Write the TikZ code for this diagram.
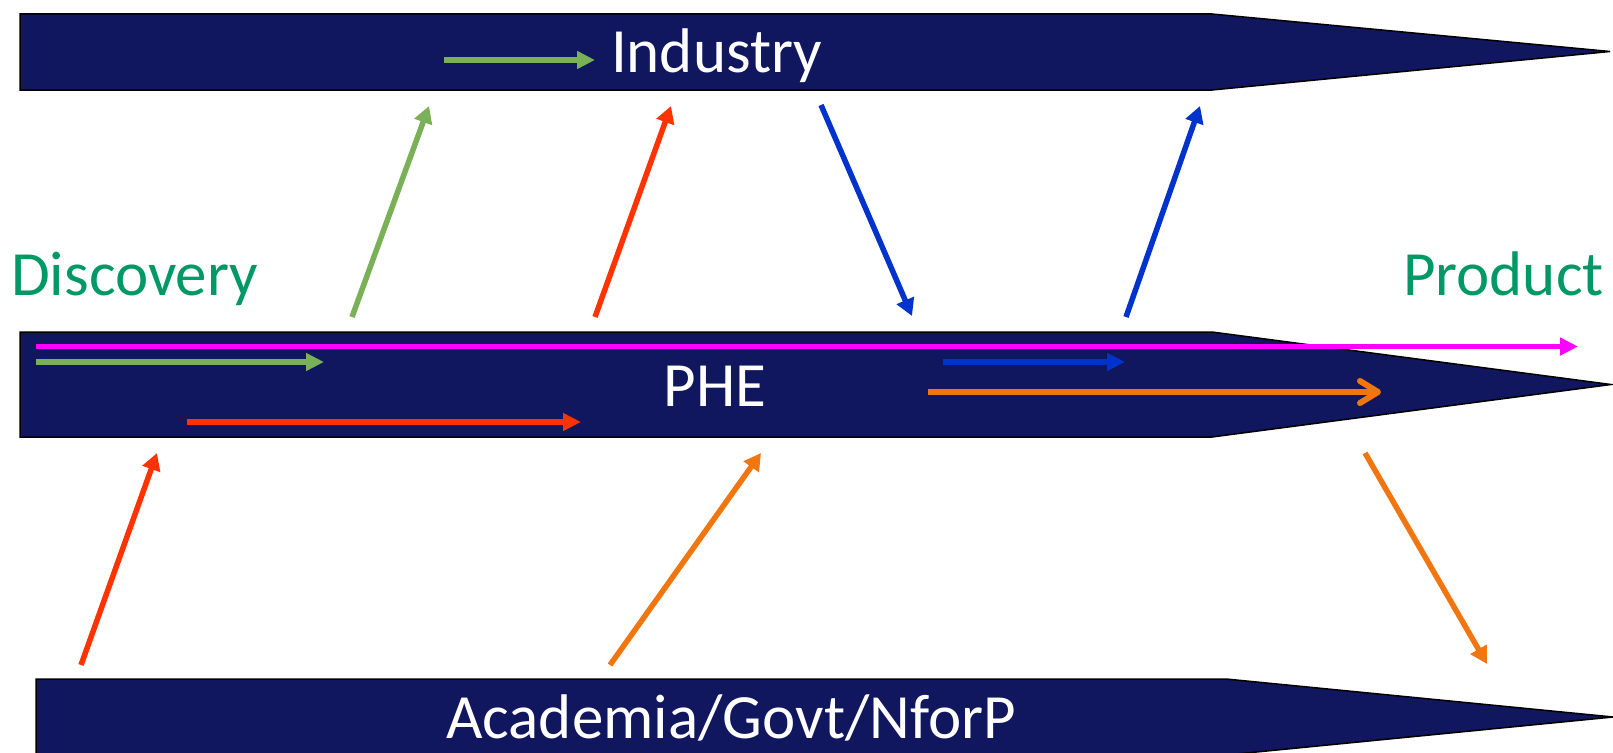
\documentclass[tikz,border=0pt]{standalone}
\usepackage{fontspec}
\setmainfont{Carlito}
\usetikzlibrary{arrows.meta}
\definecolor{bandblue}{RGB}{17,23,94}
\definecolor{arrgreen}{RGB}{122,176,88}
\definecolor{arrred}{RGB}{255,51,0}
\definecolor{arrblue}{RGB}{0,51,204}
\definecolor{arrorange}{RGB}{242,118,16}
\definecolor{arrmagenta}{RGB}{255,0,255}
\definecolor{txtgreen}{RGB}{0,153,102}
\tikzset{
  band/.style={fill=bandblue, draw=black, line width=1.5pt, line join=miter},
  bandtext/.style={text=white, font=\fontsize{63}{70}\selectfont, inner sep=0pt},
  stagetext/.style={text=txtgreen, font=\fontsize{63}{70}\selectfont, inner sep=0pt},
  flat/.style={line width=6pt, -{Triangle[length=18pt,width=17pt]}},
  slant/.style={line width=5.5pt, -{Triangle[length=17pt,width=18pt]}},
  barb/.style={line width=6pt, -{Straight Barb[length=18pt,width=22pt,round]}},
}
\begin{document}
\begin{tikzpicture}[x=1pt,y=-1pt]
\useasboundingbox (0,0) rectangle (1613,752);
\clip (0,0) rectangle (1613,752);
\fill[white] (0,0) rectangle (1613,752);

% bands
\draw[band] (20,14) -- (1212,14) -- (1610,51.5) -- (1212,90) -- (20,90) -- cycle;
\draw[band] (20,332) -- (1212,332) -- (1611,384.5) -- (1212,437) -- (20,437) -- cycle;
\draw[band] (36,679) -- (1226,679) -- (1613,717) -- (1226,755) -- (36,755) -- cycle;

% texts
\node[bandtext, anchor=base] (industry) at (716.5,73) {Industry};
\node[bandtext, anchor=base] (phe) at (715,406) {PHE};
\node[bandtext, anchor=base] (academia) at (731,738) {Academia/Govt/NforP};
\node[stagetext, anchor=base west] (discovery) at (11,295) {Discovery};
\node[stagetext, anchor=base east] (product) at (1604,295) {Product};

% arrow end points
\coordinate (ig1) at (444,60);   \coordinate (ig2) at (595,60);
\coordinate (gd1) at (352,317);  \coordinate (gd2) at (429,106);
\coordinate (rd1) at (595,317);  \coordinate (rd2) at (671,106);
\coordinate (bd1) at (821,105);  \coordinate (bd2) at (912,316);
\coordinate (bu1) at (1126,317); \coordinate (bu2) at (1200,106);
\coordinate (mm1) at (36,346.5); \coordinate (mm2) at (1578,346.5);
\coordinate (mg1) at (36,362);   \coordinate (mg2) at (324,362);
\coordinate (mr1) at (187,422);  \coordinate (mr2) at (581,422);
\coordinate (mb1) at (943,362);  \coordinate (mb2) at (1125,362);
\coordinate (mo1) at (928,392);  \coordinate (mo2) at (1381,392);
\coordinate (ru1) at (81,665);   \coordinate (ru2) at (157,453);
\coordinate (ou1) at (610,665);  \coordinate (ou2) at (761,453);
\coordinate (od1) at (1365,453); \coordinate (od2) at (1487,664);

% arrows in bands
\draw[flat, arrgreen] (ig1) -- (ig2);
\draw[flat, arrmagenta, line width=5.3pt] (mm1) -- (mm2);
\draw[flat, arrgreen] (mg1) -- (mg2);
\draw[flat, arrred] (mr1) -- (mr2);
\draw[flat, arrblue] (mb1) -- (mb2);
\draw[barb, arrorange] (mo1) -- (mo2);

% slanted arrows
\draw[slant, arrgreen] (gd1) -- (gd2);
\draw[slant, arrred] (rd1) -- (rd2);
\draw[slant, arrblue] (bd1) -- (bd2);
\draw[slant, arrblue] (bu1) -- (bu2);
\draw[slant, arrred] (ru1) -- (ru2);
\draw[slant, arrorange] (ou1) -- (ou2);
\draw[slant, arrorange] (od1) -- (od2);
\end{tikzpicture}
\end{document}
